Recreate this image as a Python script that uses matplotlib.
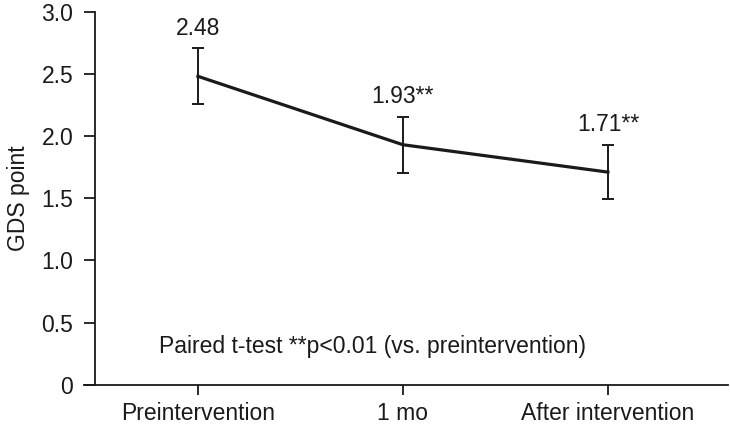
import numpy as np
import matplotlib
matplotlib.use("Agg")
import matplotlib.pyplot as plt

plt.rcParams['font.family'] = ['Liberation Sans', 'DejaVu Sans']

# Data
stages = ["Preintervention", "1 mo", "After intervention"]
gds_mean = [2.48, 1.93, 1.71]
gds_sd = [0.225, 0.225, 0.22]
point_labels = ["2.48", "1.93**", "1.71**"]
y_ticks = [0, 0.5, 1.0, 1.5, 2.0, 2.5, 3.0]
y_ticklabels = ["0", "0.5", "1.0", "1.5", "2.0", "2.5", "3.0"]

FS = 16.5

fig = plt.figure(figsize=(7.3, 4.3), dpi=100)
ax = fig.add_axes([0.115, 0.105, 0.882, 0.868])

x = np.arange(len(stages))
ax.plot(x, gds_mean, color='#1a1a1a', lw=2.3, zorder=3)
ax.errorbar(x, gds_mean, yerr=gds_sd, fmt='none', ecolor='#1a1a1a',
            elinewidth=1.4, capsize=4.3, capthick=1.4, zorder=2)

# value labels above the error bars
for xi, m, s, lab in zip(x, gds_mean, gds_sd, point_labels):
    ax.text(xi, m + s + 0.07, lab, ha='center', va='bottom', fontsize=FS,
            color='#1a1a1a')

ax.text(0.85, 0.31, "Paired t-test **p<0.01 (vs. preintervention)",
        ha='center', va='center', fontsize=FS, color='#1a1a1a')

ax.set_xlim(-0.556, 2.585)
ax.set_ylim(0, 3.0)
ax.spines['top'].set_visible(False)
ax.spines['right'].set_visible(False)
ax.spines['left'].set_position(('data', -0.5))
for sp in ('left', 'bottom'):
    ax.spines[sp].set_linewidth(1.3)
    ax.spines[sp].set_color('#1a1a1a')

ax.set_xticks(x)
ax.set_xticklabels(stages, fontsize=FS)
ax.set_yticks(y_ticks)
ax.set_yticklabels(y_ticklabels, fontsize=FS)
ax.tick_params(axis='y', length=8, width=1.3, pad=8, colors='#1a1a1a')
ax.tick_params(axis='x', length=7, width=1.3, pad=5, colors='#1a1a1a')
ax.set_ylabel("GDS point", fontsize=FS, color='#1a1a1a', labelpad=8)

fig.savefig("out.png", dpi=100)
